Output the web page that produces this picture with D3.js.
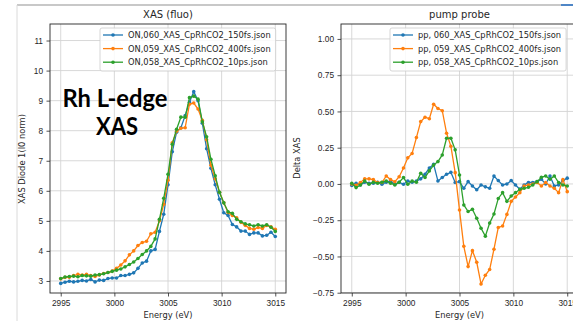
<!DOCTYPE html>
<html>
<head>
<meta charset="utf-8">
<script src="https://cdn.jsdelivr.net/npm/d3@7"></script>
<style>
  body { margin: 0; background: #fff; }
  svg { display: block; font-family: "DejaVu Sans", sans-serif; }
  .tick text { font-size: 8.3px; fill: #262626; }
  .tick line { stroke: #262626; stroke-width: 0.8; }
  .domain { display: none; }
  .grid line { stroke: #d4d4d4; stroke-width: 0.9; }
  .spine { fill: none; stroke: #262626; stroke-width: 0.9; }
  .lbl { font-size: 8.3px; fill: #262626; }
  .ttl { font-size: 10px; fill: #262626; }
  .leg-box { fill: #fff; fill-opacity: 0.85; stroke: #cccccc; stroke-width: 0.8; }
  .leg text { font-size: 8.3px; fill: #262626; }
  .note { font-family: Lato, "Open Sans", sans-serif; font-weight: bold; font-size: 25px; fill: #000; }
</style>
</head>
<body>
<div id="chart"></div>
<script>
// --- data ---
const energy = [2995.0, 2995.4, 2995.8, 2996.2, 2996.6, 2997.0, 2997.4, 2997.8, 2998.2, 2998.6,
  2999.0, 2999.4, 2999.8, 3000.2, 3000.6, 3001.0, 3001.4, 3001.8, 3002.2, 3002.6,
  3003.0, 3003.4, 3003.8, 3004.2, 3004.6, 3005.0, 3005.4, 3005.8, 3006.2, 3006.6,
  3007.0, 3007.4, 3007.8, 3008.2, 3008.6, 3009.0, 3009.4, 3009.8, 3010.2, 3010.6,
  3011.0, 3011.4, 3011.8, 3012.2, 3012.6, 3013.0, 3013.4, 3013.8, 3014.2, 3014.6, 3015.0];

// XAS (fluo)
const xas150 = [2.92, 2.96, 2.99, 2.97, 2.99, 3.02, 3.00, 3.05, 2.97, 3.03, 3.02, 3.08, 3.10, 3.10, 3.18, 3.18, 3.22, 3.27,
  3.42, 3.60, 3.66, 4.00, 4.05, 4.65, 5.22, 6.20,
  7.30, 7.95, 8.10, 8.50, 8.95, 9.30, 9.00, 8.25, 7.40, 6.75, 6.20, 5.72,
  5.27, 5.18, 4.88, 4.80, 4.66, 4.66, 4.55, 4.60, 4.60, 4.50, 4.52, 4.62, 4.48];
const xas400 = [3.07, 3.12, 3.12, 3.18, 3.22, 3.20, 3.22, 3.18, 3.15, 3.20, 3.25, 3.28,
  3.33, 3.42, 3.53, 3.67, 3.87, 4.00, 4.18, 4.28, 4.32, 4.57, 4.62, 5.00, 5.55, 6.35,
  7.60, 7.98, 8.08, 8.10, 8.88, 8.92, 8.72, 8.35, 7.70, 6.85, 6.40, 5.95,
  5.60, 5.28, 5.18, 5.10, 4.95, 4.85, 4.75, 4.72, 4.78, 4.75, 4.85, 4.80, 4.72];
const xas10ps = [3.08, 3.13, 3.15, 3.16, 3.14, 3.18, 3.17, 3.16, 3.20, 3.21, 3.24, 3.28,
  3.32, 3.36, 3.40, 3.47, 3.55, 3.63, 3.75, 3.88, 4.00, 4.15, 4.40, 5.05, 5.75, 6.55,
  7.55, 8.05, 8.45, 8.45, 9.10, 9.15, 9.05, 8.30, 7.80, 7.05, 6.50, 5.95,
  5.60, 5.30, 5.25, 5.05, 4.97, 4.90, 4.87, 4.83, 4.87, 4.83, 4.87, 4.79, 4.65];

// pump probe
const pp150 = [-0.010, 0.005, -0.007, 0.012, 0.005, 0.005, 0.012, -0.002, 0.012, 0.020,
  -0.002, 0.012, -0.002, 0.020, 0.012, 0.020, 0.035, 0.067, 0.110, 0.135,
  0.020, 0.044, 0.067, 0.080, 0.010,
  0.016, -0.030, 0.016, -0.014, -0.040, -0.007, -0.020, -0.030, 0.055, 0.023,
  -0.007, 0.000, 0.023, -0.007, -0.037, -0.007, 0.010, 0.010, 0.016, 0.032,
  0.000, 0.055, -0.014, -0.007, 0.023, 0.040];
const pp400 = [0.000, -0.010, 0.010, 0.035, 0.035, 0.030, 0.010, 0.010, 0.055, 0.030,
  0.015, 0.050, 0.110, 0.180, 0.210, 0.320, 0.430, 0.460, 0.450, 0.550,
  0.520, 0.505, 0.350, 0.260, 0.078,
  -0.180, -0.430, -0.570, -0.460, -0.540, -0.690, -0.630, -0.590, -0.450, -0.300,
  -0.290, -0.210, -0.120, -0.090, -0.060, -0.014, -0.007, 0.000, 0.010, -0.014,
  0.010, -0.014, -0.030, -0.060, 0.030, -0.053];
const pp10ps = [0.005, -0.025, -0.007, 0.020, -0.002, 0.012, 0.005, 0.012, 0.020, 0.005,
  -0.007, 0.012, 0.044, -0.002, 0.020, 0.012, 0.074, 0.044, 0.090, 0.130,
  0.154, 0.200, 0.315, 0.315, 0.235,
  0.062, -0.145, -0.190, -0.175, -0.237, -0.306, -0.360, -0.270, -0.207, -0.100,
  -0.060, -0.120, -0.083, -0.060, -0.037, -0.030, -0.023, -0.007, 0.016, 0.046,
  0.055, 0.032, 0.055, 0.010, -0.007, -0.014];

const xasNames = ["ON,060_XAS_CpRhCO2_150fs.json", "ON,059_XAS_CpRhCO2_400fs.json", "ON,058_XAS_CpRhCO2_10ps.json"];
const ppNames = ["pp, 060_XAS_CpRhCO2_150fs.json", "pp, 059_XAS_CpRhCO2_400fs.json", "pp, 058_XAS_CpRhCO2_10ps.json"];
const energyTicks = [2995, 3000, 3005, 3010, 3015];
const xasTicks = [3, 4, 5, 6, 7, 8, 9, 10, 11];
const ppTicks = [-0.75, -0.50, -0.25, 0.00, 0.25, 0.50, 0.75, 1.00];
const colors = ["#1f77b4", "#ff7f0e", "#2ca02c"];

const W = 573, H = 321;
const svg = d3.select("#chart").append("svg").attr("width", W).attr("height", H);

// bits of the screenshot frame
svg.append("line").attr("x1", 17).attr("x2", W).attr("y1", 5).attr("y2", 5)
  .attr("stroke", "#c8c8c8").attr("stroke-width", 2);
svg.append("line").attr("x1", 17).attr("x2", 17).attr("y1", 5).attr("y2", H)
  .attr("stroke", "#dadada").attr("stroke-width", 1);
svg.append("line").attr("x1", 561).attr("x2", W).attr("y1", 5).attr("y2", 5)
  .attr("stroke", "#4f86c6").attr("stroke-width", 2);

function panel(cfg, id) {
  const x = d3.scaleLinear().domain([2994, 3016]).range([cfg.left, cfg.right]);
  const y = d3.scaleLinear().domain(cfg.yDomain).range([cfg.bottom, cfg.top]);
  const g = svg.append("g");

  // grid
  const grid = g.append("g").attr("class", "grid");
  grid.selectAll("line.v").data(energyTicks).join("line").attr("class", "v")
    .attr("x1", d => x(d)).attr("x2", d => x(d)).attr("y1", cfg.top).attr("y2", cfg.bottom);
  grid.selectAll("line.h").data(cfg.yTicks).join("line").attr("class", "h")
    .attr("y1", d => y(d)).attr("y2", d => y(d)).attr("x1", cfg.left).attr("x2", cfg.right);

  // axes
  g.append("g").attr("transform", `translate(0,${cfg.bottom})`)
    .call(d3.axisBottom(x).tickValues(energyTicks).tickFormat(d3.format("d")).tickSize(3.5).tickPadding(3.5));
  g.append("g").attr("transform", `translate(${cfg.left},0)`)
    .call(d3.axisLeft(y).tickValues(cfg.yTicks).tickFormat(cfg.yFmt).tickSize(3.5).tickPadding(3.5));

  // series
  g.append("clipPath").attr("id", id).append("rect")
    .attr("x", cfg.left).attr("y", cfg.top).attr("width", cfg.right - cfg.left).attr("height", cfg.bottom - cfg.top);
  const plot = g.append("g").attr("clip-path", `url(#${id})`);
  const line = d3.line().x((d, i) => x(energy[i])).y(d => y(d));
  cfg.series.forEach((s, k) => {
    plot.append("path").datum(s).attr("d", line)
      .attr("fill", "none").attr("stroke", colors[k]).attr("stroke-width", 1.3);
    plot.append("g").selectAll("circle").data(s).join("circle")
      .attr("cx", (d, i) => x(energy[i])).attr("cy", d => y(d)).attr("r", 1.8).attr("fill", colors[k]);
  });

  // spines
  g.append("rect").attr("class", "spine")
    .attr("x", cfg.left).attr("y", cfg.top).attr("width", cfg.right - cfg.left).attr("height", cfg.bottom - cfg.top);

  // labels
  g.append("text").attr("class", "ttl").attr("x", (cfg.left + cfg.right) / 2).attr("y", 18)
    .attr("text-anchor", "middle").text(cfg.title);
  g.append("text").attr("class", "lbl").attr("x", (cfg.left + cfg.right) / 2).attr("y", 318)
    .attr("text-anchor", "middle").text("Energy (eV)");
  g.append("text").attr("class", "lbl").attr("text-anchor", "middle")
    .attr("transform", `translate(${cfg.ylabelX},${cfg.ylabelY}) rotate(-90)`).text(cfg.ylabel);

  // legend
  const leg = g.append("g").attr("class", "leg").attr("transform", `translate(${cfg.legX},28)`);
  const box = leg.append("rect").attr("class", "leg-box").attr("rx", 2).attr("height", 43);
  let maxW = 0;
  cfg.names.forEach((name, k) => {
    const ry = 7 + k * 13.6;
    leg.append("line").attr("x1", 3).attr("x2", 23).attr("y1", ry).attr("y2", ry)
      .attr("stroke", colors[k]).attr("stroke-width", 1.3);
    leg.append("circle").attr("cx", 13).attr("cy", ry).attr("r", 1.8).attr("fill", colors[k]);
    const t = leg.append("text").attr("x", 28).attr("y", ry + 3).text(name);
    maxW = Math.max(maxW, t.node().getComputedTextLength());
  });
  box.attr("width", 28 + maxW + 5);
}

panel({
  left: 50, right: 286, top: 24, bottom: 293,
  yDomain: [2.6, 11.55], yTicks: xasTicks, yFmt: d3.format("d"),
  title: "XAS (fluo)", ylabel: "XAS Diode 1(I0 norm)", ylabelX: 25, ylabelY: 159,
  series: [xas150, xas400, xas10ps], names: xasNames, legX: 100
}, "clipL");

panel({
  left: 341, right: 578, top: 24, bottom: 293,
  yDomain: [-0.752, 1.103], yTicks: ppTicks, yFmt: d3.format(".2f"),
  title: "pump probe", ylabel: "Delta XAS", ylabelX: 300, ylabelY: 158,
  series: [pp150, pp400, pp10ps], names: ppNames, legX: 390
}, "clipR");

// annotation pasted on the left panel
const note = svg.append("g").attr("class", "note");
note.append("text").attr("x", 115).attr("y", 107).attr("text-anchor", "middle")
  .attr("textLength", 105).attr("lengthAdjust", "spacingAndGlyphs").text("Rh L-edge");
note.append("text").attr("x", 117).attr("y", 135).attr("text-anchor", "middle")
  .attr("textLength", 42).attr("lengthAdjust", "spacingAndGlyphs").text("XAS");
</script>
</body>
</html>
